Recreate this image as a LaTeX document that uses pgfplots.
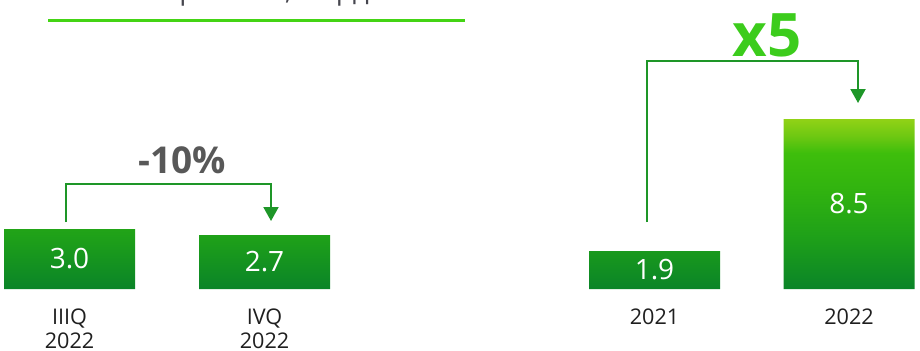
\documentclass[border=0pt]{standalone}
\usepackage{pgfplots}
\pgfplotsset{compat=1.18}
\usepackage{fontspec}
\setmainfont{Open Sans}
\usetikzlibrary{arrows.meta}
\definecolor{gA}{RGB}{10,132,40}
\definecolor{gB}{RGB}{30,160,25}
\definecolor{gB2}{RGB}{50,180,15}
\definecolor{gC}{RGB}{62,190,12}
\definecolor{gCD}{RGB}{110,200,18}
\definecolor{gD}{RGB}{145,210,22}
\definecolor{brk}{RGB}{30,150,40}
\definecolor{xfive}{RGB}{60,204,28}
\definecolor{topline}{RGB}{68,212,20}
\definecolor{pct}{RGB}{88,88,88}
\definecolor{ttl}{RGB}{70,70,78}
\pgfdeclareverticalshading{barshade}{100bp}{color(0bp)=(gA); color(25bp)=(gA); color(40bp)=(gB); color(55bp)=(gB2); color(65bp)=(gC); color(70bp)=(gCD); color(75bp)=(gD); color(100bp)=(gD)}
\begin{document}
\begin{tikzpicture}
\begin{axis}[
  width=460pt, height=175pt, scale only axis,
  xmin=0, xmax=920, ymin=-3.05, ymax=14.45,
  axis line style={draw=none}, major tick length=0pt,
  ytick=\empty,
  xtick={69.5,264.5,654.5,849},
  xticklabels={{IIIQ\\2022},{IVQ\\2022},{2021},{2022}},
  xticklabel style={align=center, font=\fontsize{10.8}{12.2}\selectfont, text=black!88, anchor=north, inner sep=0pt, yshift=21pt},
  clip=false,
]
\addplot[ybar, bar width=131, draw=none, shading=barshade,
  visualization depends on=rawy \as \rawy,
  nodes near coords={\pgfmathprintnumber[fixed,fixed zerofill,precision=1,assume math mode=true]{\pgfplotspointmeta}},
  point meta=y,
  every node near coord/.append style={anchor=center, text=white, font=\fontsize{14}{16}\selectfont, shift={(axis direction cs:0,-\rawy/2)}},
] coordinates {(69.5,3.0) (264.5,2.7) (654.5,1.9) (849,8.5)};
\draw[brk, line width=1pt, -{Triangle[width=7.5pt,length=7pt]}] (axis cs:65.7,3.35) |- (axis cs:271,5.25) -- (axis cs:271,3.4);
\draw[brk, line width=1pt, -{Triangle[width=7.5pt,length=7pt]}] (axis cs:647,3.35) |- (axis cs:858,11.4) -- (axis cs:858,9.3);
\node[font=\fontsize{18.5}{20}\selectfont\bfseries, text=pct] at (axis cs:182,6.45) {-10\%};
\node[font=\fontsize{30}{34}\selectfont\bfseries, text=xfive] at (axis cs:767,12.7) {x5};
\draw[topline, line width=1.5pt] (axis cs:48,13.425) -- (axis cs:465,13.425);
\node[anchor=base, font=\fontsize{14}{16}\selectfont, text=ttl] at (axis cs:264,14.5) {Прибыль, млрд};
\coordinate (bl) at (rel axis cs:0,0);
\coordinate (tr) at (rel axis cs:1,1);
\end{axis}
\pgfresetboundingbox
\useasboundingbox (bl) rectangle (tr);
\end{tikzpicture}
\end{document}
